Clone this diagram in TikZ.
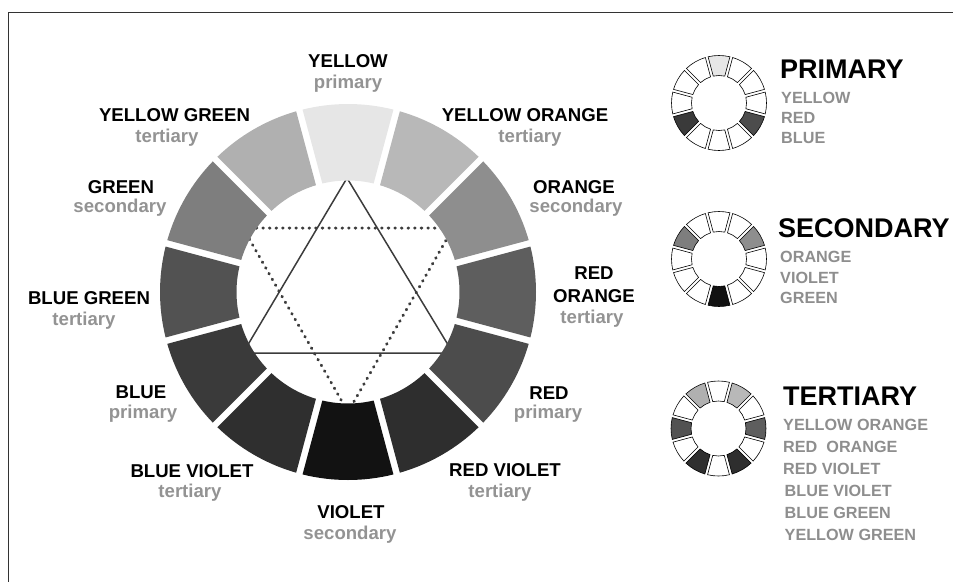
\documentclass[tikz,border=0pt]{standalone}
\usepackage{fontspec}
\setmainfont{Liberation Sans}
\definecolor{cY}{HTML}{E6E6E6}
\definecolor{cYO}{HTML}{B8B8B8}
\definecolor{cYG}{HTML}{B0B0B0}
\definecolor{cO}{HTML}{8E8E8E}
\definecolor{cG}{HTML}{7E7E7E}
\definecolor{cRO}{HTML}{5E5E5E}
\definecolor{cBG}{HTML}{525252}
\definecolor{cR}{HTML}{4C4C4C}
\definecolor{cB}{HTML}{3A3A3A}
\definecolor{cRV}{HTML}{2E2E2E}
\definecolor{cBV}{HTML}{2F2F2F}
\definecolor{cV}{HTML}{121212}
\definecolor{subgray}{HTML}{939393}
\definecolor{itemgray}{HTML}{8E8E8E}
\definecolor{linegray}{HTML}{3C3C3C}
\tikzset{
  lab/.style={font=\fontsize{18.6}{20}\selectfont\bfseries, text=black, anchor=base, inner sep=0pt},
  sub/.style={font=\fontsize{18.6}{20}\selectfont\bfseries, text=subgray, anchor=base, inner sep=0pt},
  ttl/.style={font=\fontsize{27}{30}\selectfont\bfseries, text=black, anchor=base west, inner sep=0pt},
  itm/.style={font=\fontsize{16.2}{18}\selectfont\bfseries, text=itemgray, anchor=base west, inner sep=0pt},
  frameline/.style={line width=1pt, draw=black!80},
  minisegment/.style={draw=black, line width=0.6pt},
}
\newcommand\ringsegs[5]{% #1 outer R, #2 inner r, #3 half gap, #4 list angle/colour, #5 draw options
  \foreach \a/\c in {#4} {
    \pgfmathsetmacro\ao{\a-15+asin(#3/#1)}
    \pgfmathsetmacro\bo{\a+15-asin(#3/#1)}
    \pgfmathsetmacro\ai{\a-15+asin(#3/#2)}
    \pgfmathsetmacro\bi{\a+15-asin(#3/#2)}
    \path[fill=\c,#5] (\ao:#1pt) arc[start angle=\ao, end angle=\bo, radius=#1pt]
      -- (\bi:#2pt) arc[start angle=\bi, end angle=\ai, radius=#2pt] -- cycle;
  }
}
\begin{document}
\begin{tikzpicture}[x=1pt,y=1pt]
\useasboundingbox (0,0) rectangle (953,-582);
% frame
\draw[frameline] (8,-12) -- (953,-12);
\draw[frameline] (8,-12) -- (8,-582);

% main wheel
\begin{scope}[shift={(348,-292)}]
  \begin{scope}
    \clip (0,0) circle[radius=113.5pt];
    \draw[linegray, line width=1.5pt, line join=miter] (-1,114) -- (-105,-61) -- (105,-61) -- cycle;
    \draw[linegray, line width=3pt, line cap=round, dash pattern=on 0.6pt off 6pt] (-105,64) -- (105,64) -- (0,-120) -- cycle;
  \end{scope}
  \ringsegs{188}{111.5}{3.3}{90/cY,60/cYO,30/cO,0/cRO,-30/cR,-60/cRV,-90/cV,-120/cBV,-150/cB,180/cBG,150/cG,120/cYG}{}
\end{scope}

% labels
\node[lab] (yl) at (348,-67) {YELLOW};
\node[sub] (ys) at (348,-88) {primary};
\node[lab] (ygl) at (174.5,-121) {YELLOW GREEN};
\node[sub] (ygs) at (167,-142) {tertiary};
\node[lab] (gl) at (121,-193) {GREEN};
\node[sub] (gs) at (120,-212) {secondary};
\node[lab] (bgl) at (89,-304) {BLUE GREEN};
\node[sub] (bgs) at (84,-325) {tertiary};
\node[lab] (bl) at (141,-398) {BLUE};
\node[sub] (bs) at (143,-418) {primary};
\node[lab] (bvl) at (192,-477) {BLUE VIOLET};
\node[sub] (bvs) at (190,-497) {tertiary};
\node[lab] (vl) at (351,-518) {VIOLET};
\node[sub] (vs) at (350,-539) {secondary};
\node[lab] (rvl) at (505,-476) {RED VIOLET};
\node[sub] (rvs) at (500,-497) {tertiary};
\node[lab] (rl) at (549,-399) {RED};
\node[sub] (rs) at (548,-418) {primary};
\node[lab] (rol1) at (594,-279) {RED};
\node[lab] (rol2) at (594,-302) {ORANGE};
\node[sub] (ros) at (592,-323) {tertiary};
\node[lab] (ol) at (574,-193) {ORANGE};
\node[sub] (os) at (576,-212) {secondary};
\node[lab] (yol) at (525,-121) {YELLOW ORANGE};
\node[sub] (yos) at (530,-142) {tertiary};

% mini wheels
\begin{scope}[shift={(719,-103)}]
  \ringsegs{47.5}{27.5}{1.4}{90/cY,60/white,30/white,0/white,-30/cR,-60/white,-90/white,-120/white,-150/cB,180/white,150/white,120/white}{minisegment}
\end{scope}
\begin{scope}[shift={(719,-259)}]
  \ringsegs{47.5}{27.5}{1.4}{90/white,60/white,30/cO,0/white,-30/white,-60/white,-90/cV,-120/white,-150/white,180/white,150/cG,120/white}{minisegment}
\end{scope}
\begin{scope}[shift={(718.5,-428.5)}]
  \ringsegs{47.5}{27.5}{1.4}{90/white,60/cYO,30/white,0/cRO,-30/white,-60/cRV,-90/white,-120/cBV,-150/white,180/cBG,150/white,120/cYG}{minisegment}
\end{scope}

% legend texts
\node[ttl] (pt) at (780,-78) {PRIMARY};
\node[itm] (p1) at (781,-103) {YELLOW};
\node[itm] (p2) at (781,-123) {RED};
\node[itm] (p3) at (781,-143) {BLUE};
\node[ttl] (st) at (778,-237) {SECONDARY};
\node[itm] (s1) at (780,-262) {ORANGE};
\node[itm] (s2) at (780,-283) {VIOLET};
\node[itm] (s3) at (780,-303) {GREEN};
\node[ttl] (tt) at (783,-405) {TERTIARY};
\node[itm] (t1) at (783,-430) {YELLOW ORANGE};
\node[itm] (t2) at (783,-452) {RED~~ORANGE};
\node[itm] (t3) at (783,-474) {RED VIOLET};
\node[itm] (t4) at (784.5,-496) {BLUE VIOLET};
\node[itm] (t5) at (784.5,-518) {BLUE GREEN};
\node[itm] (t6) at (784.5,-540) {YELLOW GREEN};
\end{tikzpicture}
\end{document}
